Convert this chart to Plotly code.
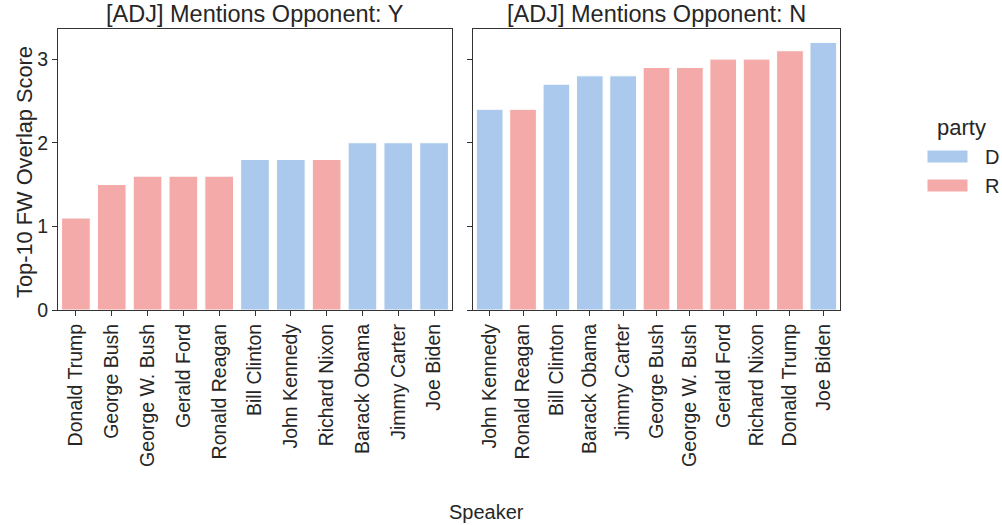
import plotly.graph_objects as go

speakers_y = ["Donald Trump", "George Bush", "George W. Bush", "Gerald Ford", "Ronald Reagan",
              "Bill Clinton", "John Kennedy", "Richard Nixon", "Barack Obama", "Jimmy Carter", "Joe Biden"]
scores_y = [1.1, 1.5, 1.6, 1.6, 1.6, 1.8, 1.8, 1.8, 2.0, 2.0, 2.0]
party_y = ["R", "R", "R", "R", "R", "D", "D", "R", "D", "D", "D"]

speakers_n = ["John Kennedy", "Ronald Reagan", "Bill Clinton", "Barack Obama", "Jimmy Carter",
              "George Bush", "George W. Bush", "Gerald Ford", "Richard Nixon", "Donald Trump", "Joe Biden"]
scores_n = [2.4, 2.4, 2.7, 2.8, 2.8, 2.9, 2.9, 3.0, 3.0, 3.1, 3.2]
party_n = ["D", "R", "D", "D", "D", "R", "R", "R", "R", "R", "D"]

titles = ["[ADJ] Mentions Opponent: Y", "[ADJ] Mentions Opponent: N"]
parties = ["D", "R"]
colors = {"D": "#abc9ec", "R": "#f3aaa8"}
FONT = "Liberation Sans, Arial, sans-serif"
TXT = "#262626"

FW, FH = 1002, 525
# plot area in screenshot pixels
L, R_, T, B = 58, 840, 29, 310
W, H = R_ - L, B - T


def px(xs):
    return (xs - L) / W


def py(ys):
    return (B - ys) / H


fig = go.Figure()
for panel, (sp, sc, pa) in enumerate([(speakers_y, scores_y, party_y), (speakers_n, scores_n, party_n)]):
    xa = "x" if panel == 0 else "x2"
    ya = "y" if panel == 0 else "y2"
    for p in parties:
        xs = [s for s, q in zip(sp, pa) if q == p]
        vs = [v for v, q in zip(sc, pa) if q == p]
        fig.add_trace(go.Bar(
            x=xs, y=vs, name=p, marker=dict(color=colors[p], line=dict(color="white", width=1)),
            xaxis=xa, yaxis=ya, showlegend=False,
        ))

axis_common = dict(showline=True, mirror=True, linecolor="#333333", linewidth=1.2,
                   ticks="outside", ticklen=5, tickcolor="#333333", showgrid=False,
                   zeroline=False, tickfont=dict(family=FONT, size=19.5, color=TXT))

fig.update_layout(
    width=FW, height=FH,
    margin=dict(l=L, r=FW - R_, t=T, b=FH - B),
    plot_bgcolor="white", paper_bgcolor="white",
    barmode="overlay", bargap=0.2,
    font=dict(family=FONT, color=TXT),
    xaxis=dict(domain=[0, px(452)], categoryorder="array", categoryarray=speakers_y,
               tickangle=-90, **axis_common),
    xaxis2=dict(domain=[px(473), 1], categoryorder="array", categoryarray=speakers_n,
                tickangle=-90, **axis_common),
    yaxis=dict(range=[0, 3.36], tickvals=[0, 1, 2, 3], anchor="x", **axis_common),
    yaxis2=dict(range=[0, 3.36], tickvals=[0, 1, 2, 3], showticklabels=False, anchor="x2",
                **axis_common),
    showlegend=False,
)

annots = [
    dict(text=titles[0], x=px(255), y=1.0, xref="paper", yref="paper", xanchor="center", yanchor="bottom",
         yshift=0, showarrow=False, font=dict(family=FONT, size=23.5, color=TXT)),
    dict(text=titles[1], x=px(656), y=1.0, xref="paper", yref="paper", xanchor="center", yanchor="bottom",
         yshift=0, showarrow=False, font=dict(family=FONT, size=23.5, color=TXT)),
    dict(text="Speaker", x=px(486), y=py(512), xref="paper", yref="paper", xanchor="center",
         yanchor="middle", showarrow=False, font=dict(family=FONT, size=20, color=TXT)),
    dict(text="Top-10 FW Overlap Score", x=px(24), y=py(172), xref="paper", yref="paper",
         xanchor="center", yanchor="middle", textangle=-90, showarrow=False,
         font=dict(family=FONT, size=21.8, color=TXT)),
    dict(text="party", x=px(962), y=py(127), xref="paper", yref="paper", xanchor="center",
         yanchor="middle", showarrow=False, font=dict(family=FONT, size=22, color=TXT)),
]
shapes = []
legend_rows = [(150, 163), (179, 192)]
for p, (y0, y1) in zip(parties, legend_rows):
    shapes.append(dict(type="rect", xref="paper", yref="paper", x0=px(927), x1=px(968),
                       y0=py(y1), y1=py(y0), fillcolor=colors[p], line=dict(color="white", width=1)))
    annots.append(dict(text=p, x=px(983), y=py((y0 + y1) / 2), xref="paper", yref="paper",
                       xanchor="left", yanchor="middle", showarrow=False,
                       font=dict(family=FONT, size=20, color=TXT)))
fig.update_layout(annotations=annots, shapes=shapes)

fig.write_html("out.html", config={"displayModeBar": False},
               post_script="document.body.style.margin='0';")
